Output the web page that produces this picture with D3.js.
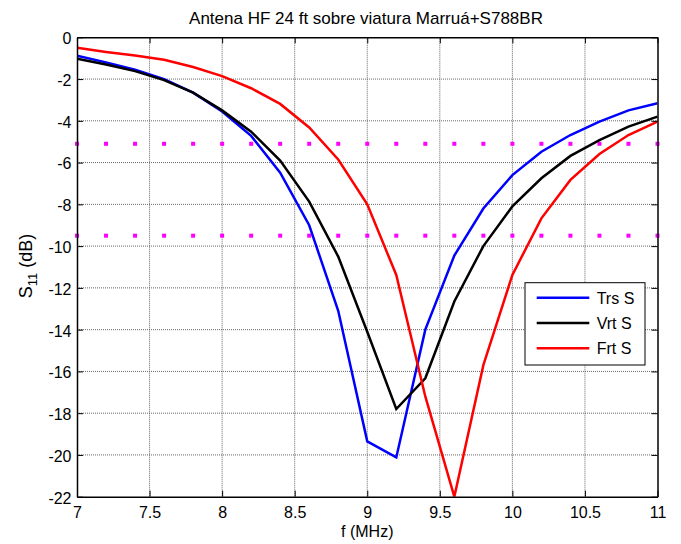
<!DOCTYPE html>
<html>
<head>
<meta charset="utf-8">
<script src="https://d3js.org/d3.v7.min.js"></script>
<style>
  body { margin: 0; background: #fff; }
  text { font-family: "Liberation Sans", Arial, sans-serif; }
</style>
</head>
<body>
<div id="chart"></div>
<script>
const freq = [7, 7.2, 7.4, 7.6, 7.8, 8, 8.2, 8.4, 8.6, 8.8, 9, 9.2, 9.4, 9.6, 9.8, 10, 10.2, 10.4, 10.6, 10.8, 11];
const trsS = [-0.88, -1.2, -1.55, -2.0, -2.65, -3.55, -4.72, -6.48, -9.0, -13.1, -19.35, -20.12, -14.0, -10.45, -8.2, -6.6, -5.48, -4.68, -4.04, -3.5, -3.16];
const vrtS = [-1.03, -1.3, -1.62, -2.05, -2.65, -3.5, -4.52, -5.9, -7.87, -10.5, -14.1, -17.8, -16.33, -12.65, -10.0, -8.1, -6.75, -5.68, -4.92, -4.28, -3.8];
const frtS = [-0.5, -0.7, -0.87, -1.08, -1.42, -1.86, -2.44, -3.19, -4.32, -5.85, -8.0, -11.38, -17.2, -22.0, -15.7, -11.38, -8.67, -6.83, -5.59, -4.68, -4.04];
const refLevels = [-5.1, -9.5];

const seriesNames = ["Trs S", "Vrt S", "Frt S"];
const seriesColors = ["#0000ff", "#000000", "#ff0000"];
const xTicks = [7, 7.5, 8, 8.5, 9, 9.5, 10, 10.5, 11];
const yTicks = [0, -2, -4, -6, -8, -10, -12, -14, -16, -18, -20, -22];

const width = 681, height = 544;
const margin = { top: 37.3, right: 23.5, bottom: 47.3, left: 77 };

const svg = d3.select("#chart").append("svg")
    .attr("width", width)
    .attr("height", height);

svg.append("rect").attr("width", width).attr("height", height).attr("fill", "#fff");

const x = d3.scaleLinear().domain([7, 11]).range([margin.left, width - margin.right]);
const y = d3.scaleLinear().domain([-22, 0]).range([height - margin.bottom, margin.top]);

// grid
svg.append("g").selectAll("line").data(xTicks.slice(1, -1)).join("line")
    .attr("x1", d => x(d)).attr("x2", d => x(d))
    .attr("y1", y(0)).attr("y2", y(-22))
    .attr("stroke", "#666").attr("stroke-width", 1).attr("stroke-dasharray", "1,1");
svg.append("g").selectAll("line").data(yTicks.slice(1, -1)).join("line")
    .attr("y1", d => y(d)).attr("y2", d => y(d))
    .attr("x1", x(7)).attr("x2", x(11))
    .attr("stroke", "#666").attr("stroke-width", 1).attr("stroke-dasharray", "1,1");

// reference markers (magenta dots)
svg.append("clipPath").attr("id", "plotclip").append("rect")
    .attr("x", x(7)).attr("y", y(0)).attr("width", x(11) - x(7)).attr("height", y(-22) - y(0));

refLevels.forEach(lv => {
    svg.append("g").selectAll("rect").data(freq).join("rect")
        .attr("x", d => x(d) - 2).attr("y", y(lv) - 2)
        .attr("width", 4).attr("height", 4)
        .attr("fill", "#ff00ff");
});

// series
const line = d3.line().x(d => x(d[0])).y(d => y(d[1]));
[trsS, vrtS, frtS].forEach((vals, i) => {
    svg.append("path")
        .datum(freq.map((f, j) => [f, vals[j]]))
        .attr("fill", "none")
        .attr("stroke", seriesColors[i])
        .attr("stroke-width", 2.5)
        .attr("clip-path", "url(#plotclip)")
        .attr("d", line);
});

// axes (MATLAB style, inward ticks, box)
const tickLen = 6;
const axB = svg.append("g").attr("transform", `translate(0,${y(-22)})`)
    .call(d3.axisBottom(x).tickValues(xTicks).tickSizeInner(-tickLen).tickSizeOuter(0).tickPadding(10).tickFormat(d3.format("")));
const axT = svg.append("g").attr("transform", `translate(0,${y(0)})`)
    .call(d3.axisTop(x).tickValues(xTicks).tickSizeInner(-tickLen).tickSizeOuter(0).tickFormat(""));
const axL = svg.append("g").attr("transform", `translate(${x(7)},0)`)
    .call(d3.axisLeft(y).tickValues(yTicks).tickSizeInner(-tickLen).tickSizeOuter(0).tickPadding(5.5).tickFormat(d3.format("")));
const axR = svg.append("g").attr("transform", `translate(${x(11)},0)`)
    .call(d3.axisRight(y).tickValues(yTicks).tickSizeInner(-tickLen).tickSizeOuter(0).tickFormat(""));

[axB, axT, axL, axR].forEach(a => {
    a.select(".domain").attr("stroke", "#000").attr("stroke-width", 1.5);
    a.selectAll(".tick line").attr("stroke", "#000").attr("stroke-width", 1);
    a.selectAll("text").attr("font-family", "'Liberation Sans', Arial, sans-serif")
        .attr("font-size", 16).attr("fill", "#000");
});
axL.selectAll(".tick text").text(d => d < 0 ? "-" + Math.abs(d) : d).attr("dy", "0.4em");

// title
svg.append("text")
    .attr("x", 366).attr("y", 24)
    .attr("text-anchor", "middle")
    .attr("font-size", 17)
    .text("Antena HF 24 ft sobre viatura Marruá+S788BR");

// x label
svg.append("text")
    .attr("x", (x(7) + x(11)) / 2).attr("y", 537)
    .attr("text-anchor", "middle")
    .attr("font-size", 16)
    .text("f (MHz)");

// y label
const yl = svg.append("text")
    .attr("transform", `translate(32,266) rotate(-90)`)
    .attr("text-anchor", "middle")
    .attr("font-size", 18);
yl.append("tspan").text("S");
yl.append("tspan").attr("font-size", 13).attr("dy", 5).text("11");
yl.append("tspan").attr("dy", -5).text(" (dB)");

// legend
const lg = svg.append("g").attr("transform", "translate(525,282.7)");
lg.append("rect").attr("width", 120).attr("height", 82.3)
    .attr("fill", "#fff").attr("stroke", "#000").attr("stroke-width", 1);
seriesNames.forEach((name, i) => {
    const ly = 15 + i * 25.3;
    lg.append("line").attr("x1", 11.7).attr("x2", 64.3).attr("y1", ly).attr("y2", ly)
        .attr("stroke", seriesColors[i]).attr("stroke-width", 2.5);
    lg.append("text").attr("x", 71.7).attr("y", ly + 6).attr("font-size", 16).text(name);
});
</script>
</body>
</html>
